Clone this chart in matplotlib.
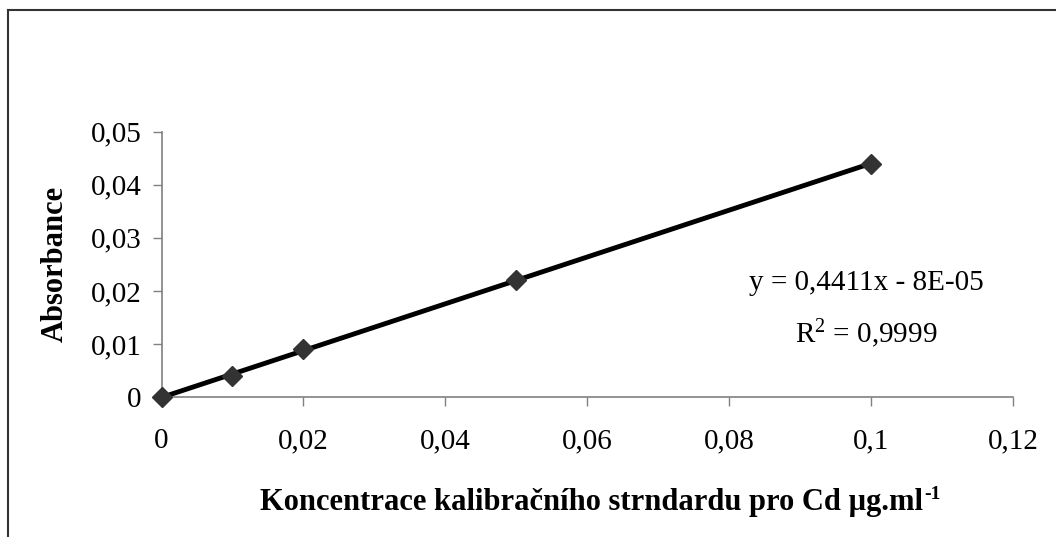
import numpy as np
import matplotlib
matplotlib.use('Agg')
import matplotlib.pyplot as plt
from matplotlib.lines import Line2D
from matplotlib.ticker import FuncFormatter

#_______________________________________________________________________________________________________________________
# DATA - calibration standard Cd
conc = [0, 0.01, 0.02, 0.05, 0.1]
absorb = [0, 0.004, 0.009, 0.022, 0.044]
slope, intercept = 0.4411, -8e-05
eq_text = 'y = 0,4411x - 8E-05'
r2_text = '$\\mathregular{R^2}$ = 0,9999'
xlabel_text = 'Koncentrace kalibračního strndardu pro Cd µg.ml'
xlabel_sup = '-1'
xticks = [0, 0.02, 0.04, 0.06, 0.08, 0.1, 0.12]
yticks = [0, 0.01, 0.02, 0.03, 0.04, 0.05]

plt.rcParams['font.family'] = 'Liberation Serif'
plt.rcParams['mathtext.fontset'] = 'custom'
plt.rcParams['mathtext.rm'] = 'Liberation Serif'

W, H = 1056, 537

#_______________________________________________________________________________________________________________________
# PLOT
fig = plt.figure(figsize=(W/100, H/100), dpi=100)
ax = fig.add_axes([161.5/W, 1 - 397/H, (1013 - 161.5)/W, (397 - 131.7)/H])

# outer frame (top + left only)
fig.add_artist(Line2D([8/W, 1], [1 - 10/H, 1 - 10/H], color='#333333', lw=1.5))
fig.add_artist(Line2D([8/W, 8/W], [0, 1 - 10/H], color='#333333', lw=1.5))

# trendline + points
xfit = np.array([min(conc), max(conc)])
ax.plot(xfit, slope*xfit + intercept, color='black', lw=3.5, zorder=2, clip_on=False)
ax.plot(conc, absorb, linestyle='none', marker='D', ms=10.5, color='#333333', zorder=3, clip_on=False)

ax.set_xlim(0, 0.12)
ax.set_ylim(0, 0.05)
ax.set_xticks(xticks)
ax.set_yticks(yticks)
fmt = FuncFormatter(lambda v, p: ('%g' % round(v, 4)).replace('.', ','))
ax.xaxis.set_major_formatter(fmt)
ax.yaxis.set_major_formatter(fmt)

for s in ['top', 'right']:
    ax.spines[s].set_visible(False)
for s in ['left', 'bottom']:
    ax.spines[s].set_color('#808080')
    ax.spines[s].set_linewidth(1.2)
ax.tick_params(direction='out', length=6.5, width=1, color='#808080', labelsize=21)
ax.tick_params(axis='x', pad=16)
ax.tick_params(axis='y', pad=8)

# axis titles
fig.text(55/W, 1 - 264/H, 'Absorbance', fontsize=22, fontweight='bold',
         rotation=90, ha='center', va='center')
xl = fig.text(600/W, 1 - 510/H, xlabel_text, fontsize=22, fontweight='bold',
              ha='center', va='baseline')
fig.canvas.draw()
bb = xl.get_window_extent(fig.canvas.get_renderer())
sup = fig.text(0, 0, xlabel_sup, fontsize=14, fontweight='bold', ha='left', va='baseline')
sb = sup.get_window_extent(fig.canvas.get_renderer())
shift = sb.width / 2
xl.set_x((600 - shift)/W)
sup.set_position(((bb.x1 - shift + 1)/W, 1 - 499/H))

# trendline equation
ax.text(0.0993, 0.0202, eq_text, fontsize=21, ha='center', va='baseline')
ax.text(0.0993, 0.0102, r2_text, fontsize=21, ha='center', va='baseline')

plt.savefig('out.png', dpi=100)
